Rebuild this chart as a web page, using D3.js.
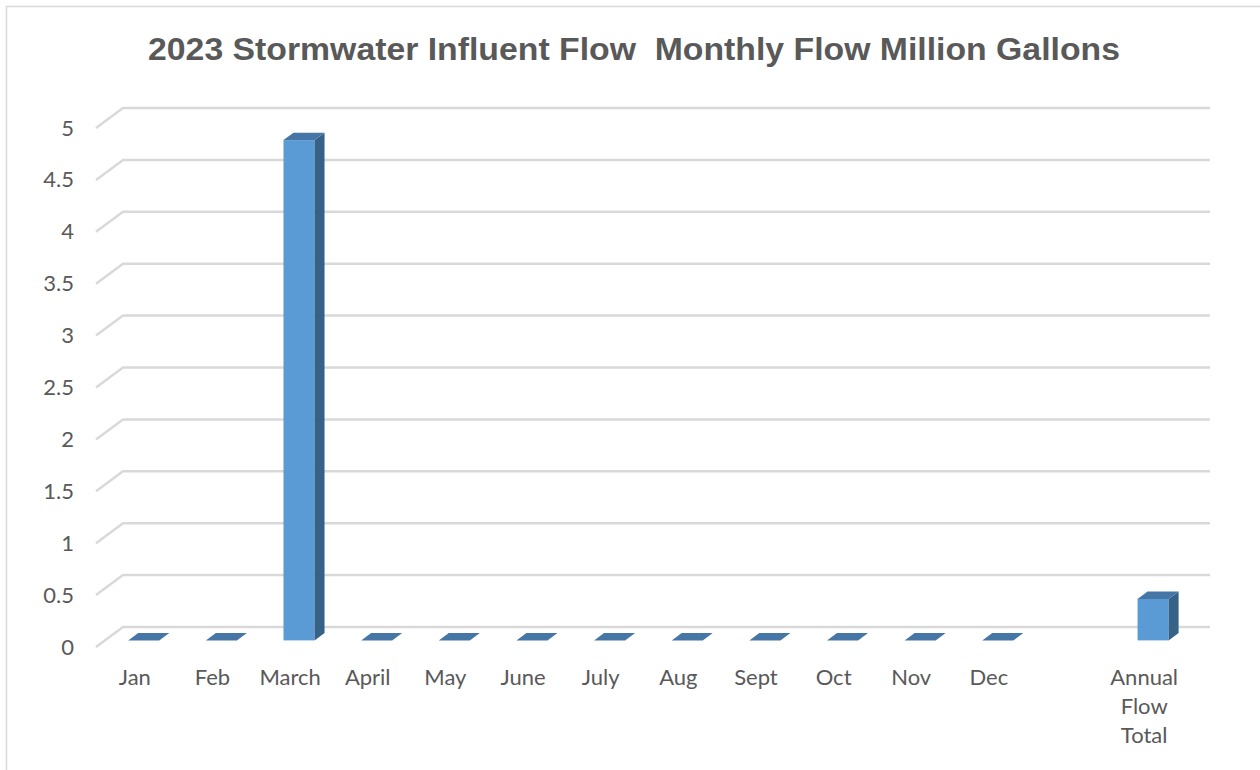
<!DOCTYPE html>
<html>
<head>
<meta charset="utf-8">
<script src="https://cdn.jsdelivr.net/npm/d3@7"></script>
<style>
  html, body { margin: 0; padding: 0; background: #ffffff; }
  svg { display: block; }
</style>
</head>
<body>
<svg id="chart" width="1260" height="770"></svg>
<script>
// Monthly stormwater influent flow, million gallons (2023)
const categories = ["Jan", "Feb", "March", "April", "May", "June", "July",
                    "Aug", "Sept", "Oct", "Nov", "Dec", "", "Annual Flow Total"];
const flowValues = [0, 0, 4.82, 0, 0, 0, 0, 0, 0, 0, 0, 0, null, 0.40];
const yTicks = [0, 0.5, 1, 1.5, 2, 2.5, 3, 3.5, 4, 4.5, 5];
const chartTitle = "2023 Stormwater Influent Flow  Monthly Flow Million Gallons";

const svg = d3.select("#chart");
const textColor = "#595959";
const gridColor = "#d9d9d9";

// 3D layout: the back wall holds the gridlines, the floor recedes by a depth vector
const depth = { dx: 27, dy: -20 };
const plot = { left: 96, right: 1183 };   // front edge of floor
const y = d3.scaleLinear().domain([0, 5]).range([647, 128]); // front plane
const x = d3.scaleBand().domain(categories.map((c, i) => i)).range([plot.left, plot.right]).padding(0);

const bw = x.bandwidth() * 0.4;   // bar width
const t0 = 0.33, t1 = 0.70;       // bar front / back position along the depth

// Chart frame
svg.append("rect")
  .attr("x", 6.5).attr("y", 6.5)
  .attr("width", 1270).attr("height", 780)
  .attr("fill", "none").attr("stroke", gridColor).attr("stroke-width", 1.5);

// Title (wide bold face)
svg.append("text")
  .attr("transform", "translate(634,60) scale(1.09,1)")
  .attr("text-anchor", "middle")
  .style("white-space", "pre")
  .attr("font-family", "'Liberation Sans', Arial, sans-serif")
  .attr("font-weight", "bold")
  .attr("font-size", 31)
  .attr("fill", textColor)
  .text(chartTitle);

// Gridlines: diagonal along the side wall then across the back wall
const grid = svg.append("g");
yTicks.forEach(v => {
  const yf = y(v);
  grid.append("path")
    .attr("d", `M${plot.left},${yf}L${plot.left + depth.dx},${yf + depth.dy}L${plot.right + depth.dx},${yf + depth.dy}`)
    .attr("fill", "none")
    .attr("stroke", gridColor)
    .attr("stroke-width", 2.5);
});

// Y axis labels
const yAxis = d3.axisLeft(y).tickValues(yTicks).tickSize(0).tickPadding(0)
  .tickFormat(d3.format("~g"));
const ya = svg.append("g").attr("transform", "translate(74,0)").call(yAxis);
ya.select(".domain").remove();
ya.selectAll("text")
  .attr("font-family", "Lato, 'Open Sans', sans-serif")
  .attr("font-size", 22)
  .attr("fill", textColor);

// X axis labels, wrapped word by word when wider than a band
const xl = svg.append("g");
categories.forEach((c, i) => {
  if (!c) return;
  const cx = x(i) + x.bandwidth() / 2;
  const t = xl.append("text")
    .attr("x", cx).attr("y", 685)
    .attr("text-anchor", "middle")
    .attr("font-family", "Lato, 'Open Sans', sans-serif")
    .attr("font-size", 22)
    .attr("fill", textColor);
  const words = c.split(" ");
  if (words.length > 1) {
    words.forEach((w, k) => t.append("tspan").attr("x", cx).attr("dy", k === 0 ? 0 : 29).text(w));
  } else {
    t.text(c);
  }
});

// Columns: front face, side face and top face
const bars = svg.append("g");
const faceFront = "#5b9bd5", faceSide = "#376288", faceTop = "#4576a6";
flowValues.forEach((v, i) => {
  if (v === null || v === undefined) return;
  const fx = x(i) + x.bandwidth() / 2 - bw / 2 + t0 * depth.dx;
  const fy0 = y(0) + t0 * depth.dy;
  const fy1 = y(v) + t0 * depth.dy;
  const ox = (t1 - t0) * depth.dx, oy = (t1 - t0) * depth.dy;
  if (v > 0) {
    bars.append("rect")
      .attr("x", fx).attr("y", fy1)
      .attr("width", bw).attr("height", fy0 - fy1)
      .attr("fill", faceFront);
    bars.append("path")
      .attr("d", `M${fx + bw},${fy1}L${fx + bw + ox},${fy1 + oy}L${fx + bw + ox},${fy0 + oy}L${fx + bw},${fy0}Z`)
      .attr("fill", faceSide);
  }
  bars.append("path")
    .attr("d", `M${fx},${fy1}L${fx + ox},${fy1 + oy}L${fx + bw + ox},${fy1 + oy}L${fx + bw},${fy1}Z`)
    .attr("fill", faceTop);
});
</script>
</body>
</html>
